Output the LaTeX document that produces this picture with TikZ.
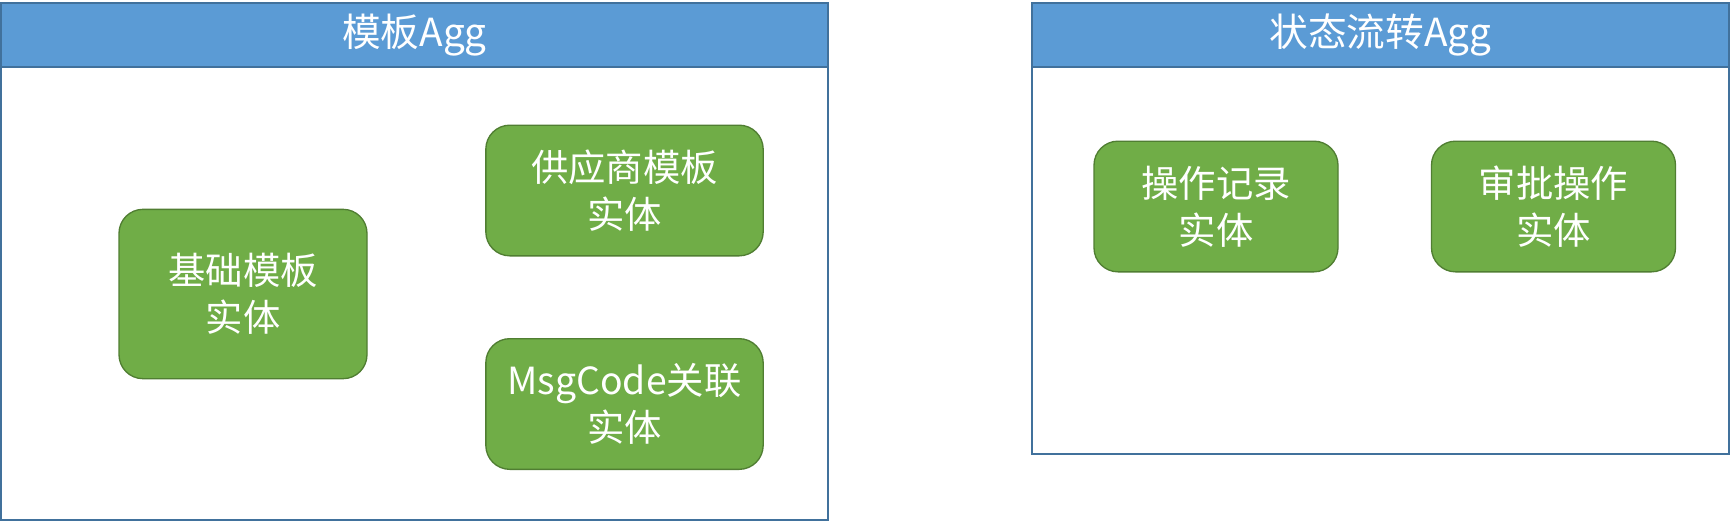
\documentclass[tikz,border=0pt]{standalone}
\usepackage{fontspec}
\setmainfont{Noto Sans CJK SC}
\definecolor{headblue}{HTML}{5B9BD5}
\definecolor{frameblue}{HTML}{41719C}
\definecolor{entgreen}{HTML}{70AD47}
\definecolor{entborder}{HTML}{507E32}
\begin{document}
\begin{tikzpicture}[x=0.75pt, y=-0.75pt,
    aggframe/.style={rectangle, draw=frameblue, line width=1.5pt, fill=white, inner sep=0pt},
    agghead/.style={rectangle, draw=frameblue, line width=1.5pt, fill=headblue, inner sep=0pt,
      text=white, font=\fontsize{29}{34}\selectfont},
    entity/.style={rectangle, rounded corners=18pt, draw=entborder, line width=1pt, fill=entgreen,
      text=white, align=center, inner sep=0pt, font=\fontsize{28}{35}\selectfont}]
  \useasboundingbox (0,0) rectangle (1731,522);

  % Left aggregate
  \node[aggframe, minimum width=620pt, minimum height=388pt] (tplframe) at (414.5,261.5) {};
  \node[agghead, minimum width=620pt, minimum height=48pt] (tplhead) at (414.5,35) {模板Agg};

  % Right aggregate
  \node[aggframe, minimum width=523pt, minimum height=338pt] (flowframe) at (1380.5,228.5) {};
  \node[agghead, minimum width=523pt, minimum height=48pt] (flowhead) at (1380.5,35) {状态流转Agg};

  % Entities of the template aggregate
  \node[entity, minimum width=186pt, minimum height=127pt] (basetpl) at (243,294) {基础模板\\实体};
  \node[entity, minimum width=208pt, minimum height=98pt] (suppliertpl) at (624.5,190.5) {供应商模板\\实体};
  \node[entity, minimum width=208pt, minimum height=98pt] (msgcode) at (624.5,404) {MsgCode关联\\实体};

  % Entities of the state flow aggregate
  \node[entity, minimum width=183pt, minimum height=98pt] (oprecord) at (1216,206.5) {操作记录\\实体};
  \node[entity, minimum width=183pt, minimum height=98pt] (approveop) at (1553.5,206.5) {审批操作\\实体};
\end{tikzpicture}
\end{document}
